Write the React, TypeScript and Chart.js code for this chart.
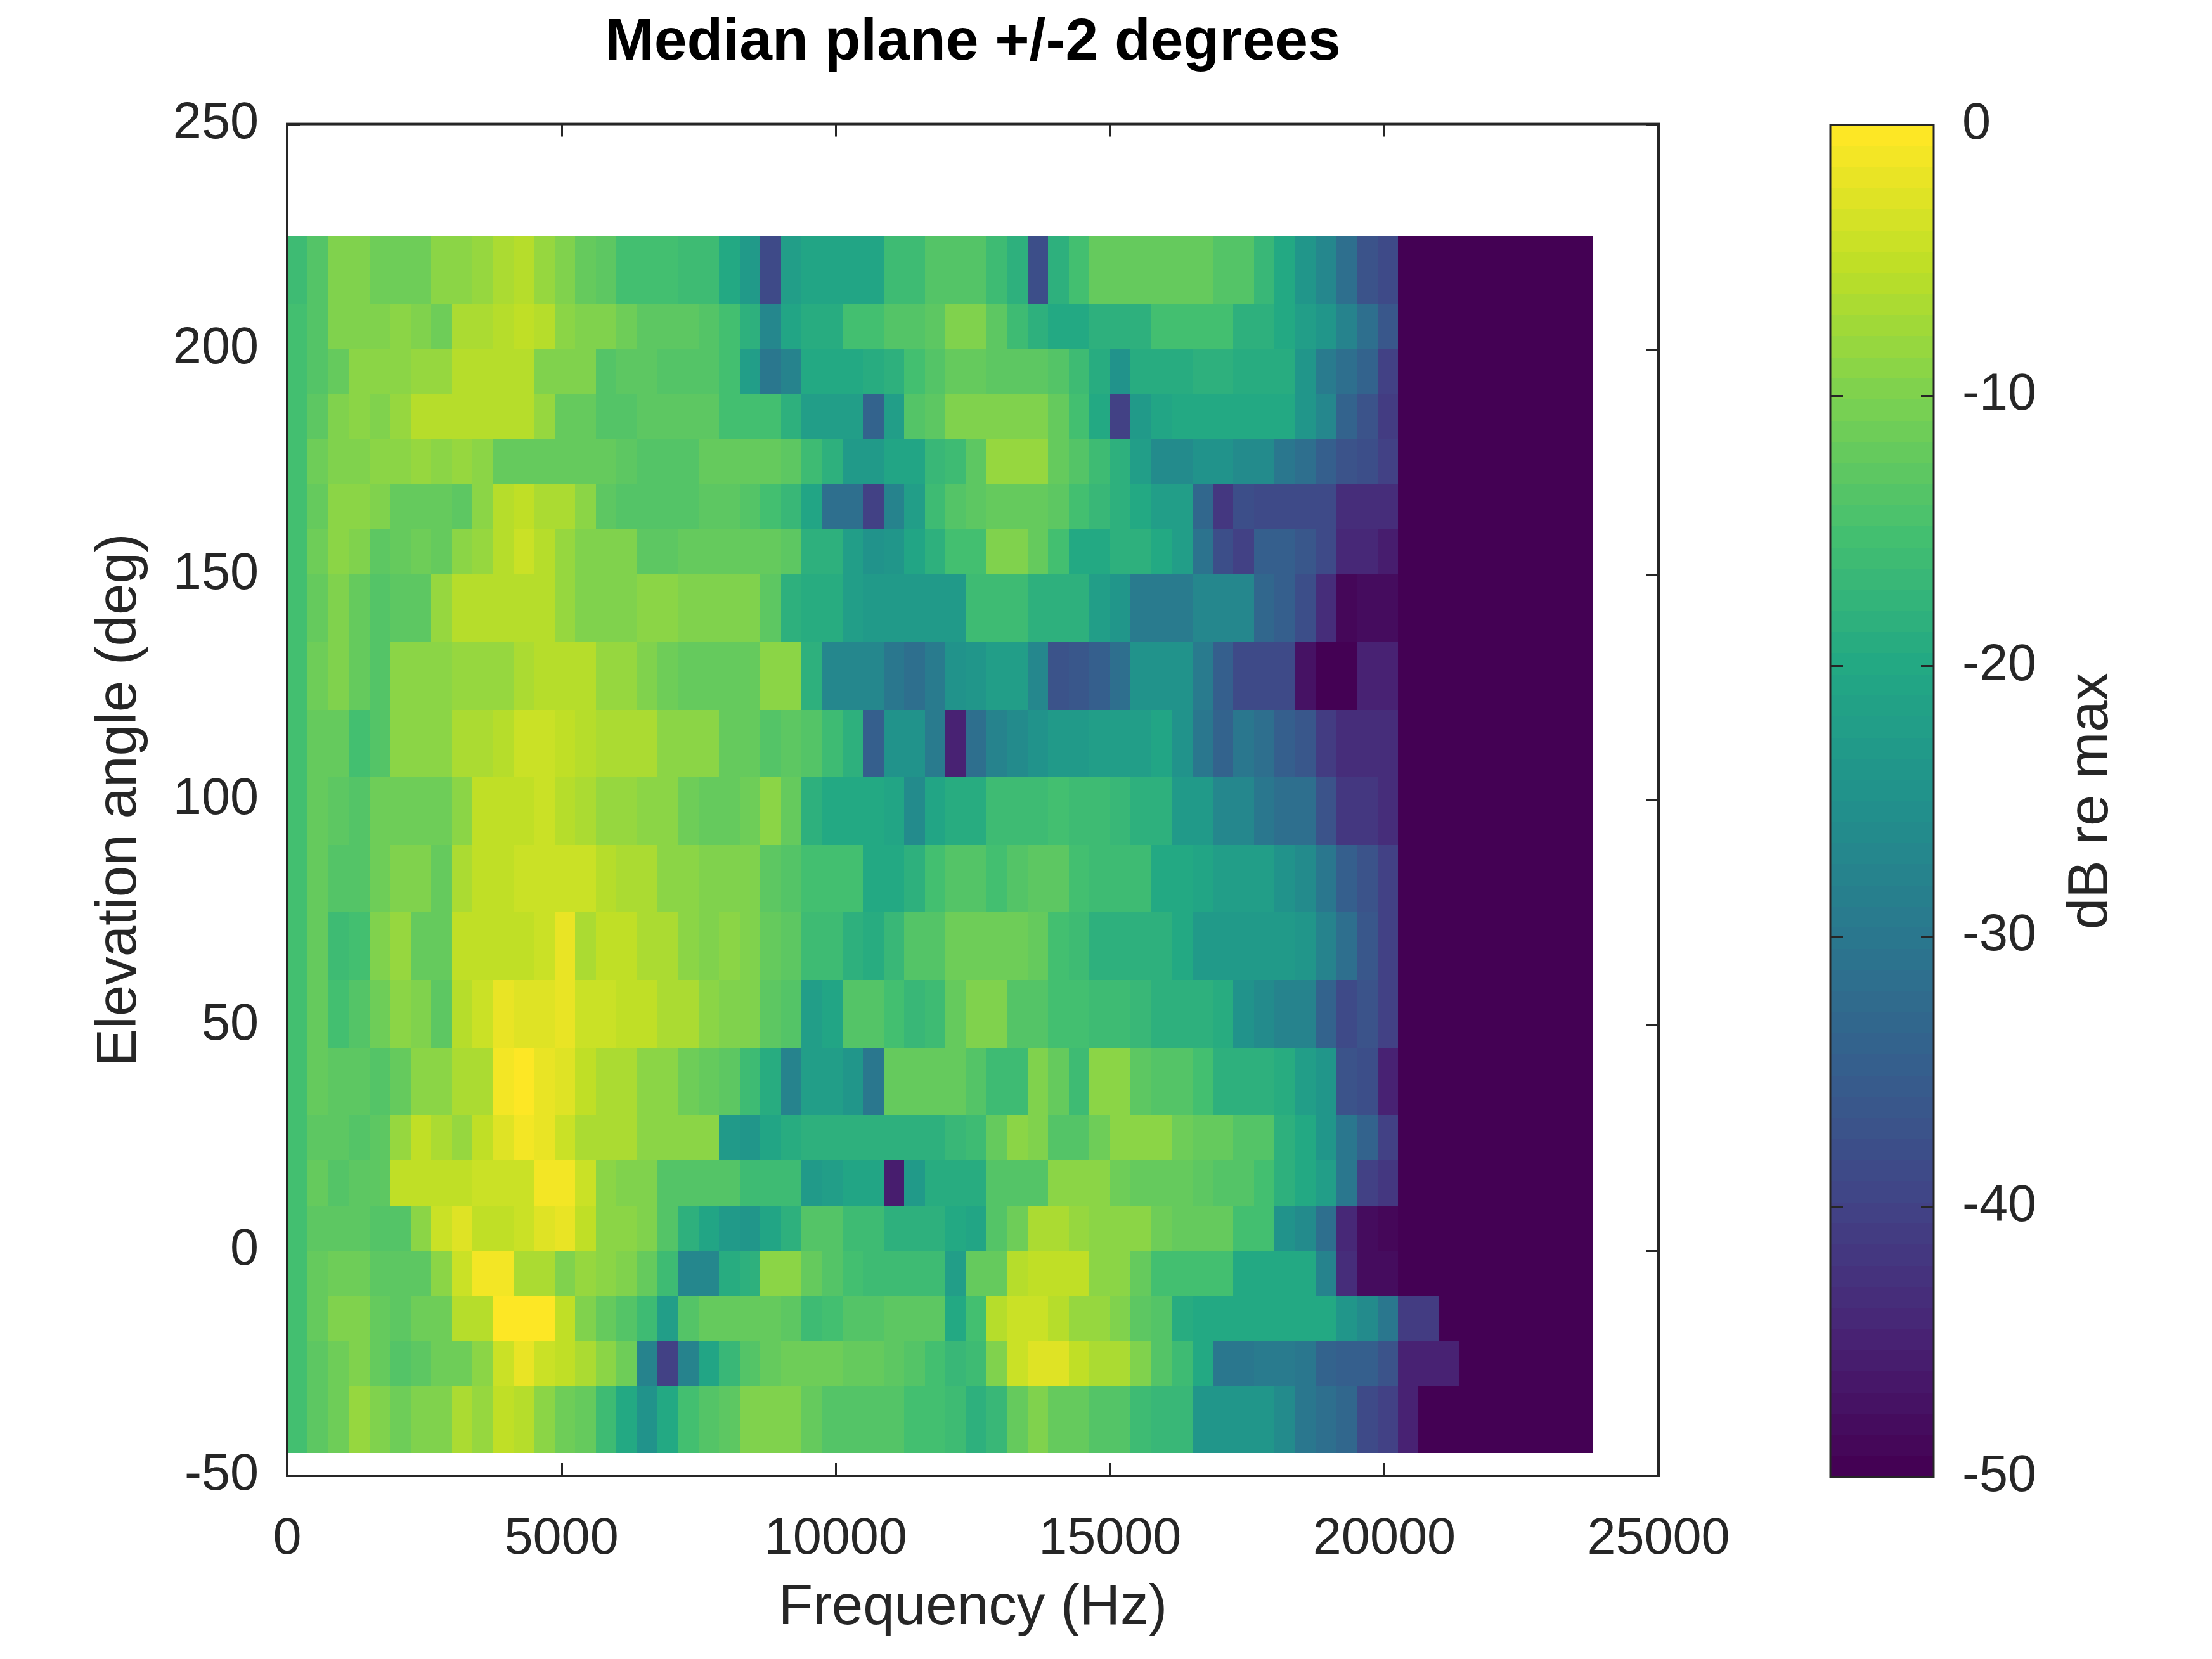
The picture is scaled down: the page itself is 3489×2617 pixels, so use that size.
import React, { useEffect, useRef } from "react";
import { Chart, registerables } from "chart.js";

Chart.register(...registerables);

const W = 3489;
const H = 2617;
const FONT = "'Liberation Sans', Arial, Helvetica, sans-serif";
const AXIS_COLOR = "#262626";

// ---- data ----
const freqStep = 375; // Hz per cell
const freqEnd = 23812.5; // last cell edge (Hz)
const floorDb = -50; // clipped level of the empty high-frequency region
const colorMin = -50;
const colorMax = 0;
const elevationEdges = [-45, -30, -20, -10, 0, 10, 20, 30, 45, 60, 75, 90, 105, 120, 135, 150, 160, 170, 180, 190, 200, 210, 225];

const rowM45 = [-15,-13,-11,-8,-10,-11,-10,-10,-7,-8,-5,-6,-9,-11,-12,-16,-20,-25,-20,-15,-14,-13,-10,-10,-10,-12,-14,-14,-14,-14,-15,-15,-16,-18,-17,-12,-10,-12,-12,-14,-14,-16,-17,-17,-24,-24,-24,-24,-26,-30,-32,-33,-39,-40,-45];
const rowM30 = [-15,-13,-11,-10,-12,-14,-13,-11,-11,-9,-4,-2,-4,-5,-7,-9,-11,-28,-40,-28,-21,-17,-14,-12,-11,-11,-11,-12,-12,-13,-14,-15,-17,-16,-10,-4,-3,-3,-5,-7,-7,-10,-14,-16,-20,-30,-30,-29,-29,-30,-34,-35,-35,-37,-45,-45,-45];
const rowM20 = [-15,-12,-10,-10,-12,-13,-11,-11,-6,-6,0,0,0,-5,-10,-12,-14,-16,-22,-14,-12,-12,-12,-12,-13,-16,-15,-14,-14,-13,-13,-13,-20,-15,-6,-4,-4,-6,-8,-8,-10,-13,-14,-19,-20,-20,-20,-20,-20,-20,-20,-24,-26,-30,-41,-41];
const rowM10 = [-15,-12,-11,-11,-13,-13,-13,-9,-4,-1,-1,-7,-7,-10,-8,-9,-10,-12,-16,-27,-27,-19,-18,-9,-9,-12,-14,-15,-16,-16,-16,-16,-22,-12,-12,-6,-5,-5,-5,-9,-9,-12,-15,-15,-15,-15,-20,-20,-20,-20,-28,-43,-48,-48];
const row0 = [-15,-13,-13,-13,-14,-14,-9,-4,-3,-5,-5,-4,-3,-2,-5,-9,-9,-10,-14,-18,-21,-23,-24,-21,-18,-14,-14,-16,-16,-18,-18,-18,-20,-21,-14,-11,-7,-7,-8,-9,-9,-9,-11,-12,-12,-12,-15,-15,-25,-26,-32,-44,-48,-49];
const row10 = [-15,-12,-14,-13,-13,-5,-5,-5,-5,-4,-4,-4,-1,-1,-4,-9,-10,-10,-14,-14,-14,-14,-16,-16,-16,-23,-22,-21,-21,-46,-23,-19,-19,-19,-14,-14,-14,-9,-9,-9,-11,-12,-12,-12,-13,-14,-14,-15,-18,-20,-22,-30,-40,-42];
const row20 = [-15,-13,-13,-14,-13,-8,-5,-7,-8,-5,-3,-1,-2,-4,-7,-7,-7,-9,-9,-9,-9,-23,-24,-21,-19,-18,-18,-18,-18,-18,-18,-18,-17,-16,-12,-9,-10,-14,-14,-11,-9,-9,-9,-11,-12,-12,-14,-14,-18,-20,-24,-30,-34,-40];
const row30 = [-15,-12,-13,-13,-14,-12,-9,-9,-7,-7,-1,0,-2,-3,-5,-7,-7,-9,-9,-11,-12,-13,-16,-19,-28,-22,-22,-24,-30,-12,-12,-12,-12,-14,-16,-16,-10,-12,-16,-9,-9,-13,-14,-14,-15,-18,-18,-18,-19,-22,-24,-37,-38,-45];
const row45 = [-15,-12,-15,-14,-11,-9,-10,-13,-6,-4,-2,-3,-3,-2,-4,-4,-5,-5,-7,-7,-9,-10,-10,-13,-14,-22,-21,-14,-14,-15,-17,-16,-12,-10,-10,-14,-14,-15,-15,-16,-16,-17,-18,-18,-18,-19,-25,-26,-28,-28,-34,-39,-37,-40];
const row60 = [-15,-12,-16,-15,-10,-8,-12,-12,-5,-5,-5,-5,-4,-2,-7,-5,-5,-7,-7,-9,-10,-9,-10,-12,-13,-16,-16,-18,-19,-17,-14,-14,-11,-11,-11,-11,-12,-15,-16,-18,-18,-18,-18,-20,-23,-23,-23,-23,-23,-24,-28,-32,-36,-40];
const row75 = [-15,-12,-14,-14,-11,-10,-10,-12,-7,-5,-5,-4,-4,-4,-4,-6,-7,-7,-9,-9,-10,-10,-10,-13,-14,-15,-15,-15,-20,-20,-18,-15,-14,-14,-15,-14,-13,-13,-15,-16,-16,-16,-20,-20,-21,-22,-22,-22,-25,-26,-30,-35,-37,-40];
const row90 = [-15,-12,-13,-14,-11,-11,-11,-11,-9,-5,-5,-5,-4,-6,-7,-8,-8,-9,-9,-11,-12,-12,-11,-9,-12,-18,-20,-20,-20,-21,-26,-21,-19,-19,-16,-16,-16,-15,-16,-16,-17,-18,-18,-23,-23,-27,-27,-30,-32,-32,-37,-42,-42,-43];
const row105 = [-15,-12,-12,-15,-14,-9,-9,-9,-7,-7,-6,-4,-4,-5,-6,-7,-7,-7,-9,-9,-9,-12,-12,-14,-13,-14,-16,-18,-35,-25,-25,-29,-45,-32,-28,-26,-25,-23,-23,-22,-22,-22,-21,-25,-30,-34,-30,-32,-35,-36,-41,-43,-43,-43];
const row120 = [-15,-11,-10,-12,-14,-9,-9,-9,-8,-8,-8,-7,-6,-6,-6,-8,-8,-10,-11,-12,-12,-12,-12,-9,-9,-18,-27,-27,-27,-30,-32,-29,-25,-24,-22,-22,-27,-37,-36,-35,-32,-25,-25,-25,-29,-35,-39,-39,-39,-47,-50,-50,-45,-45];
const row135 = [-15,-12,-10,-12,-14,-13,-13,-8,-6,-6,-6,-6,-6,-8,-10,-10,-10,-9,-9,-10,-10,-10,-10,-13,-18,-19,-19,-22,-23,-23,-23,-23,-23,-16,-16,-16,-18,-18,-18,-22,-24,-29,-29,-29,-27,-27,-27,-33,-35,-38,-43,-49,-48,-48];
const row150 = [-15,-11,-9,-10,-13,-12,-11,-12,-9,-8,-6,-4,-6,-8,-10,-10,-10,-13,-13,-12,-12,-12,-12,-12,-13,-18,-18,-22,-25,-24,-21,-18,-15,-15,-10,-10,-12,-15,-20,-20,-18,-18,-20,-22,-31,-38,-40,-35,-35,-36,-39,-44,-44,-46];
const row160 = [-15,-12,-9,-9,-10,-12,-12,-12,-13,-9,-6,-5,-7,-7,-9,-13,-14,-14,-14,-14,-13,-13,-14,-15,-17,-21,-32,-32,-40,-28,-22,-16,-14,-13,-12,-12,-12,-13,-15,-17,-18,-20,-22,-22,-33,-42,-38,-39,-39,-39,-39,-43,-43,-43];
const row170 = [-15,-11,-10,-10,-9,-9,-8,-9,-8,-9,-12,-12,-12,-12,-12,-12,-13,-14,-14,-14,-12,-12,-12,-12,-13,-16,-18,-23,-23,-21,-21,-17,-16,-13,-8,-8,-8,-12,-14,-16,-18,-22,-26,-26,-25,-25,-26,-26,-30,-32,-35,-37,-38,-40];
const row180 = [-15,-13,-10,-9,-10,-8,-6,-6,-6,-6,-6,-6,-8,-12,-12,-14,-14,-13,-13,-13,-13,-15,-15,-15,-18,-22,-22,-22,-34,-22,-14,-13,-10,-10,-10,-10,-10,-12,-15,-20,-40,-23,-21,-20,-20,-20,-20,-20,-20,-24,-27,-34,-37,-41];
const row190 = [-15,-14,-12,-9,-9,-9,-8,-8,-6,-6,-6,-6,-10,-10,-10,-14,-13,-13,-14,-14,-14,-15,-22,-30,-28,-20,-20,-20,-19,-18,-15,-14,-12,-12,-13,-13,-13,-14,-16,-19,-25,-19,-19,-19,-18,-18,-19,-19,-19,-24,-29,-32,-34,-40];
const row200 = [-15,-14,-10,-10,-10,-9,-10,-11,-7,-7,-6,-5,-6,-9,-10,-10,-11,-13,-13,-13,-14,-15,-18,-27,-21,-19,-19,-15,-15,-14,-14,-13,-10,-10,-13,-16,-18,-20,-20,-18,-18,-18,-15,-15,-15,-15,-18,-18,-20,-22,-24,-28,-32,-36];
const row210 = [-16,-14,-10,-10,-11,-11,-11,-9,-9,-8,-7,-6,-8,-10,-12,-13,-15,-15,-15,-16,-16,-20,-23,-39,-22,-21,-21,-21,-21,-16,-16,-14,-14,-14,-16,-18,-38,-18,-15,-12,-12,-12,-12,-12,-12,-14,-14,-17,-20,-24,-27,-32,-37,-39];

// rows listed bottom to top, matching consecutive pairs of elevationEdges
const rows = [rowM45, rowM30, rowM20, rowM10, row0, row10, row20, row30, row45, row60, row75, row90, row105, row120, row135, row150, row160, row170, row180, row190, row200, row210];

// ---- colour map (viridis, 64 levels) ----
const viridisKeys = ["#440154", "#482475", "#414487", "#355f8d", "#2a788e", "#21918c", "#22a884", "#44bf70", "#7ad151", "#bddf26", "#fde725"];
const nLevels = 64;

function hexToRgb(h: string): number[] {
  return [parseInt(h.slice(1, 3), 16), parseInt(h.slice(3, 5), 16), parseInt(h.slice(5, 7), 16)];
}
const viridisRgb = viridisKeys.map(hexToRgb);

function viridis(t: number): string {
  const c = Math.max(0, Math.min(1, t)) * (viridisRgb.length - 1);
  const i = Math.min(viridisRgb.length - 2, Math.floor(c));
  const f = c - i;
  const a = viridisRgb[i];
  const b = viridisRgb[i + 1];
  const r = Math.round(a[0] + (b[0] - a[0]) * f);
  const g = Math.round(a[1] + (b[1] - a[1]) * f);
  const bl = Math.round(a[2] + (b[2] - a[2]) * f);
  return `rgb(${r},${g},${bl})`;
}

function levelOf(db: number): number {
  const idx = Math.floor(((db - colorMin) / (colorMax - colorMin)) * nLevels);
  return Math.max(0, Math.min(nLevels - 1, idx));
}
function colorFor(db: number): string {
  return viridis(levelOf(db) / (nLevels - 1));
}

const TICK_LEN = 20;

const heatmapPlugin = {
  id: "heatmap",
  beforeDatasetsDraw(chart: any) {
    const { ctx, chartArea: a, scales } = chart;
    const x = scales.x;
    const y = scales.y;
    ctx.save();
    // inward ticks (drawn beneath the image, like the original)
    ctx.strokeStyle = AXIS_COLOR;
    ctx.lineWidth = 3;
    ctx.beginPath();
    for (const t of x.ticks) {
      const px = Math.round(x.getPixelForValue(t.value)) + 0.5;
      ctx.moveTo(px, a.bottom);
      ctx.lineTo(px, a.bottom - TICK_LEN);
      ctx.moveTo(px, a.top);
      ctx.lineTo(px, a.top + TICK_LEN);
    }
    for (const t of y.ticks) {
      const py = Math.round(y.getPixelForValue(t.value)) + 0.5;
      ctx.moveTo(a.left, py);
      ctx.lineTo(a.left + TICK_LEN, py);
      ctx.moveTo(a.right, py);
      ctx.lineTo(a.right - TICK_LEN, py);
    }
    ctx.stroke();

    // cells
    const nBins = Math.ceil(freqEnd / freqStep);
    rows.forEach((vals, r) => {
      const top = Math.round(y.getPixelForValue(elevationEdges[r + 1]));
      const bot = Math.round(y.getPixelForValue(elevationEdges[r]));
      for (let k = 0; k < nBins; k++) {
        const f0 = k * freqStep;
        const f1 = Math.min((k + 1) * freqStep, freqEnd);
        const v = k < vals.length ? vals[k] : floorDb;
        const x0 = Math.round(x.getPixelForValue(f0));
        const x1 = Math.round(x.getPixelForValue(f1));
        ctx.fillStyle = colorFor(v);
        ctx.fillRect(x0, top, x1 - x0, bot - top);
      }
    });

    // frame
    ctx.strokeStyle = AXIS_COLOR;
    ctx.lineWidth = 4;
    ctx.strokeRect(a.left, a.top, a.right - a.left, a.bottom - a.top);
    ctx.restore();
  },
};

const colorbarPlugin = {
  id: "colorbar",
  beforeDatasetsDraw(chart: any) {
    const { ctx, chartArea: a, scales } = chart;
    const y = scales.y;
    ctx.save();
    const step = (colorMax - colorMin) / nLevels;
    for (let i = 0; i < nLevels; i++) {
      const lo = colorMin + i * step;
      const hi = lo + step;
      const top = Math.round(y.getPixelForValue(hi));
      const bot = Math.round(y.getPixelForValue(lo));
      ctx.fillStyle = viridis(i / (nLevels - 1));
      ctx.fillRect(a.left, top, a.right - a.left, bot - top);
    }
    ctx.strokeStyle = AXIS_COLOR;
    ctx.lineWidth = 3;
    ctx.strokeRect(a.left, a.top, a.right - a.left, a.bottom - a.top);
    ctx.beginPath();
    for (const t of y.ticks) {
      const py = Math.round(y.getPixelForValue(t.value)) + 0.5;
      ctx.moveTo(a.left, py);
      ctx.lineTo(a.left + TICK_LEN, py);
      ctx.moveTo(a.right, py);
      ctx.lineTo(a.right - TICK_LEN, py);
    }
    ctx.stroke();
    ctx.restore();
  },
  afterDraw(chart: any) {
    const { ctx, chartArea: a } = chart;
    ctx.save();
    ctx.translate(a.right + 249, (a.top + a.bottom) / 2);
    ctx.rotate(-Math.PI / 2);
    ctx.fillStyle = AXIS_COLOR;
    ctx.font = `89px ${FONT}`;
    ctx.textAlign = "center";
    ctx.textBaseline = "middle";
    ctx.fillText("dB re max", 0, 0);
    ctx.restore();
  },
};

export default function App() {
  const mainRef = useRef<HTMLCanvasElement>(null);
  const cbRef = useRef<HTMLCanvasElement>(null);

  useEffect(() => {
    document.body.style.margin = "0";
    const tickFont = { family: FONT, size: 81 };
    const labelFont = { family: FONT, size: 89, lineHeight: 1.2 };

    const main = new Chart(mainRef.current as HTMLCanvasElement, {
      type: "scatter",
      data: { datasets: [] },
      options: {
        responsive: false,
        animation: false,
        devicePixelRatio: 1,
        events: [],
        layout: { padding: { left: 0, top: 0, right: W - 2616, bottom: 0 } },
        plugins: {
          legend: { display: false },
          tooltip: { enabled: false },
          title: {
            display: true,
            text: "Median plane +/-2 degrees",
            fullSize: false,
            color: "#000000",
            font: { family: FONT, size: 93, weight: "bold", lineHeight: 1.2 },
            padding: { top: 13, bottom: 71 },
          },
        },
        scales: {
          x: {
            type: "linear",
            min: 0,
            max: 25000,
            ticks: {
              stepSize: 5000,
              callback: (v: any) => String(v),
              font: tickFont,
              color: AXIS_COLOR,
              padding: 52,
              maxRotation: 0,
              autoSkip: false,
            },
            grid: { display: false, drawTicks: false },
            border: { display: false },
            title: { display: true, text: "Frequency (Hz)", color: AXIS_COLOR, font: labelFont, padding: { top: 0, bottom: 26 } },
            afterFit: (s: any) => {
              s.height = 289;
            },
          },
          y: {
            type: "linear",
            min: -50,
            max: 250,
            ticks: {
              stepSize: 50,
              callback: (v: any) => String(v),
              font: tickFont,
              color: AXIS_COLOR,
              padding: 45,
              autoSkip: false,
            },
            grid: { display: false, drawTicks: false },
            border: { display: false },
            title: { display: true, text: "Elevation angle (deg)", color: AXIS_COLOR, font: labelFont, padding: { top: 136, bottom: 0 } },
            afterFit: (s: any) => {
              s.width = 453;
            },
          },
        },
      } as any,
      plugins: [heatmapPlugin],
    });

    const cb = new Chart(cbRef.current as HTMLCanvasElement, {
      type: "scatter",
      data: { datasets: [] },
      options: {
        responsive: false,
        animation: false,
        devicePixelRatio: 1,
        events: [],
        layout: { padding: { left: 2887, top: 197, right: 0, bottom: H - 2330 } },
        plugins: { legend: { display: false }, tooltip: { enabled: false }, title: { display: false } },
        scales: {
          x: { type: "linear", display: false, min: 0, max: 1 },
          y: {
            type: "linear",
            position: "right",
            min: colorMin,
            max: colorMax,
            ticks: {
              stepSize: 10,
              callback: (v: any) => String(v),
              font: tickFont,
              color: AXIS_COLOR,
              padding: 45,
              autoSkip: false,
            },
            grid: { display: false, drawTicks: false },
            border: { display: false },
            afterFit: (s: any) => {
              s.width = W - 3050;
            },
          },
        },
      } as any,
      plugins: [colorbarPlugin],
    });

    return () => {
      main.destroy();
      cb.destroy();
    };
  }, []);

  return (
    <div style={{ position: "relative", width: W, height: H, background: "#ffffff", overflow: "hidden" }}>
      <canvas ref={mainRef} width={W} height={H} style={{ position: "absolute", left: 0, top: 0, width: W, height: H }} />
      <canvas ref={cbRef} width={W} height={H} style={{ position: "absolute", left: 0, top: 0, width: W, height: H }} />
    </div>
  );
}
